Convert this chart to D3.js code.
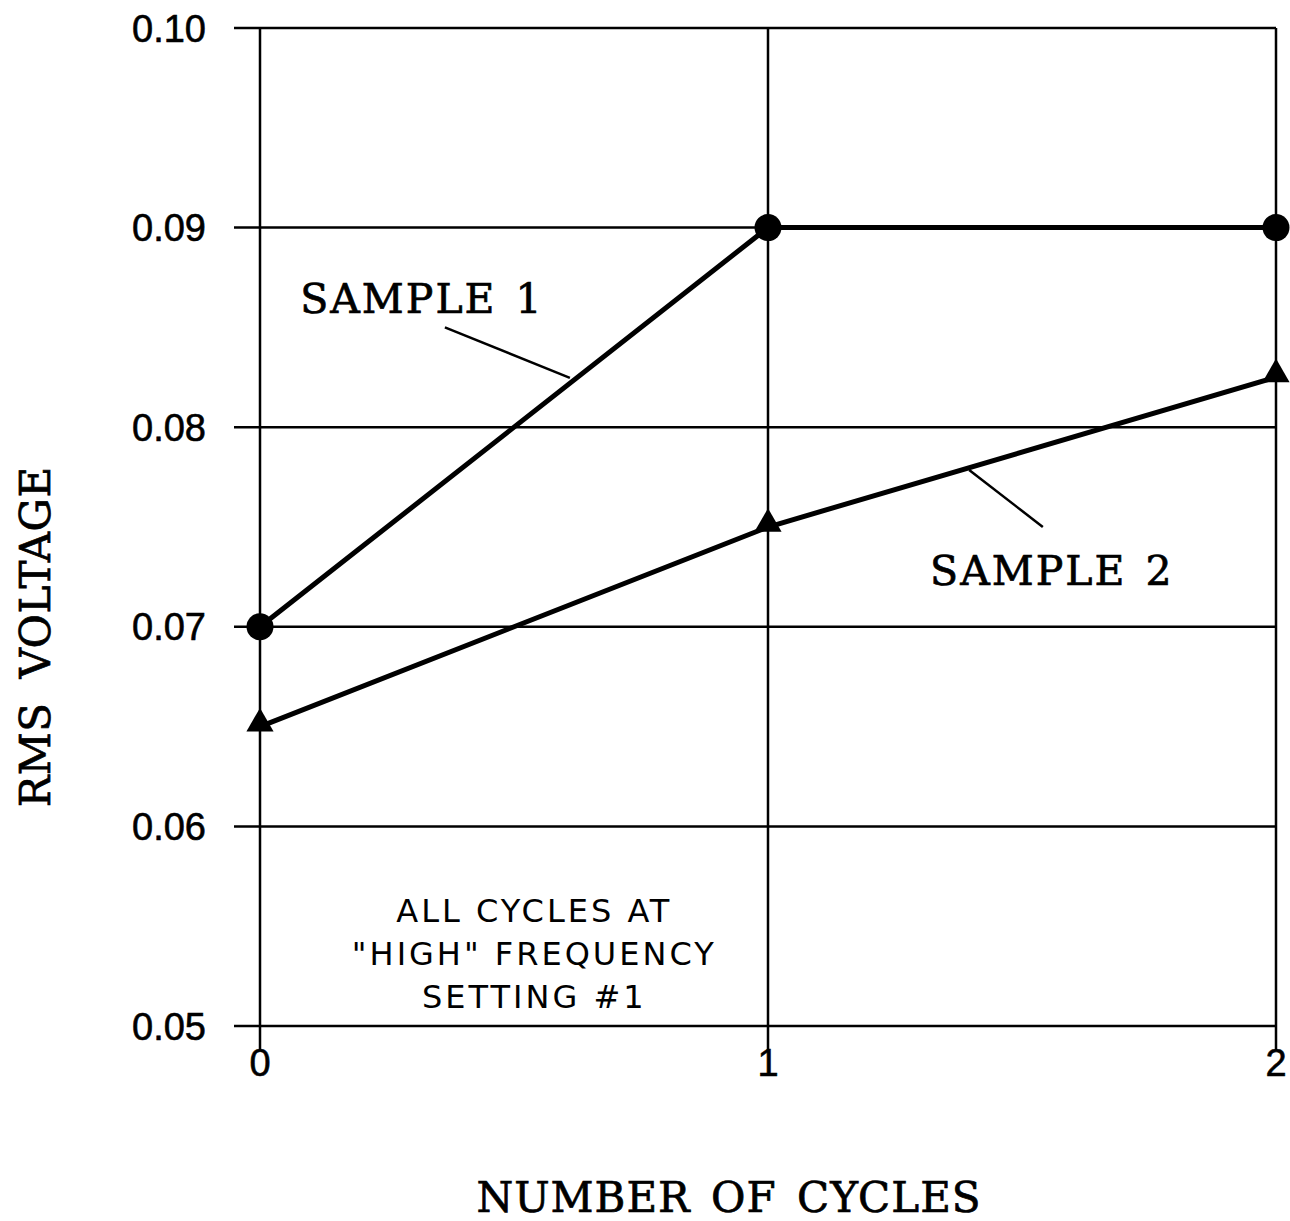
<!DOCTYPE html>
<html>
<head>
<meta charset="utf-8">
<script src="https://cdn.jsdelivr.net/npm/d3@7"></script>
<style>
  body { margin: 0; background: #fff; }
  svg { display: block; }
</style>
</head>
<body>
<svg id="chart"></svg>
<script>
// data
const cycles = [0, 1, 2];
const sample1 = [0.070, 0.090, 0.090];
const sample2 = [0.065, 0.075, 0.0825];
const yTicks = [0.05, 0.06, 0.07, 0.08, 0.09, 0.10];
const noteLines = ["ALL CYCLES AT", "\"HIGH\" FREQUENCY", "SETTING #1"];
// callout leaders, in data units: [x1, y1, x2, y2]
const leader1 = [0.364, 0.0850, 0.610, 0.08247];
const leader2 = [1.396, 0.07786, 1.541, 0.0750];

const width = 1290, height = 1221;
const margin = { top: 28, right: 14, bottom: 195, left: 260 };

const svg = d3.select("#chart")
    .attr("width", width)
    .attr("height", height);

const x = d3.scaleLinear().domain([0, 2]).range([margin.left, width - margin.right]);
const y = d3.scaleLinear().domain([0.05, 0.10]).range([height - margin.bottom, margin.top]);

const tickFont = "'Liberation Sans', Arial, sans-serif";
const typeFont = "'DejaVu Serif', 'Liberation Serif', serif";

// horizontal grid + left ticks
svg.append("g")
    .selectAll("line")
    .data(yTicks)
    .join("line")
    .attr("x1", x(0) - 26)
    .attr("x2", x(2))
    .attr("y1", d => y(d))
    .attr("y2", d => y(d))
    .attr("stroke", "#000")
    .attr("stroke-width", 2.5);

// vertical grid + bottom ticks
svg.append("g")
    .selectAll("line")
    .data(cycles)
    .join("line")
    .attr("x1", d => x(d))
    .attr("x2", d => x(d))
    .attr("y1", y(0.10))
    .attr("y2", y(0.05) + 24)
    .attr("stroke", "#000")
    .attr("stroke-width", 2.5);

// y tick labels
svg.append("g")
    .selectAll("text")
    .data(yTicks)
    .join("text")
    .attr("x", x(0) - 54)
    .attr("y", d => y(d))
    .attr("dy", "0.36em")
    .attr("text-anchor", "end")
    .attr("font-family", tickFont)
    .attr("font-size", 38)
    .attr("stroke", "#000").attr("stroke-width", 0.6)
    .text(d => d3.format(".2f")(d));

// x tick labels
svg.append("g")
    .selectAll("text")
    .data(cycles)
    .join("text")
    .attr("x", d => x(d))
    .attr("y", y(0.05) + 50)
    .attr("text-anchor", "middle")
    .attr("font-family", tickFont)
    .attr("font-size", 38)
    .attr("stroke", "#000").attr("stroke-width", 0.6)
    .text(d => d);

// series lines
const line = d3.line().x(d => x(d[0])).y(d => y(d[1]));
[sample1, sample2].forEach(s => {
    svg.append("path")
        .datum(cycles.map((c, i) => [c, s[i]]))
        .attr("d", line)
        .attr("fill", "none")
        .attr("stroke", "#000")
        .attr("stroke-width", 5);
});

// markers
svg.append("g")
    .selectAll("circle")
    .data(cycles.map((c, i) => [c, sample1[i]]))
    .join("circle")
    .attr("cx", d => x(d[0]))
    .attr("cy", d => y(d[1]))
    .attr("r", 13.5)
    .attr("fill", "#000");

const tri = d3.symbol().type(d3.symbolTriangle).size(320);
svg.append("g")
    .selectAll("path")
    .data(cycles.map((c, i) => [c, sample2[i]]))
    .join("path")
    .attr("transform", d => `translate(${x(d[0])},${y(d[1]) - 3})`)
    .attr("d", tri)
    .attr("fill", "#000");

// callout leaders
[leader1, leader2].forEach(l => {
    svg.append("line")
        .attr("x1", x(l[0])).attr("y1", y(l[1]))
        .attr("x2", x(l[2])).attr("y2", y(l[3]))
        .attr("stroke", "#000")
        .attr("stroke-width", 2.5);
});

// series labels
[["SAMPLE 1", 0.079, 0.08572], ["SAMPLE 2", 1.319, 0.07209]].forEach(l => {
    svg.append("text")
        .attr("x", x(l[1]))
        .attr("y", y(l[2]))
        .attr("font-family", typeFont)
        .attr("font-size", 41)
        .attr("letter-spacing", 2)
        .attr("word-spacing", 4)
        .attr("stroke", "#000").attr("stroke-width", 0.7)
        .text(l[0]);
});

// note
svg.append("g")
    .selectAll("text")
    .data(noteLines)
    .join("text")
    .attr("x", x(0.54))
    .attr("y", (d, i) => y(0.0545) - 14 + i * 43)
    .attr("text-anchor", "middle")
    .attr("font-family", "'DejaVu Sans', sans-serif")
    .attr("font-size", 32)
    .attr("letter-spacing", 3)
    .text(d => d);

// axis titles
svg.append("text")
    .attr("x", (x(0) + x(2)) / 2 - 39)
    .attr("y", height - 9)
    .attr("text-anchor", "middle")
    .attr("font-family", typeFont)
    .attr("font-size", 42)
    .attr("letter-spacing", 1)
    .attr("word-spacing", 6)
    .attr("stroke", "#000").attr("stroke-width", 0.7)
    .text("NUMBER OF CYCLES");

svg.append("text")
    .attr("transform", `translate(50,${y(0.07) + 10}) rotate(-90)`)
    .attr("text-anchor", "middle")
    .attr("font-family", typeFont)
    .attr("font-size", 42)
    .attr("letter-spacing", 0.5)
    .attr("word-spacing", 10)
    .attr("stroke", "#000").attr("stroke-width", 0.7)
    .text("RMS VOLTAGE");
</script>
</body>
</html>
